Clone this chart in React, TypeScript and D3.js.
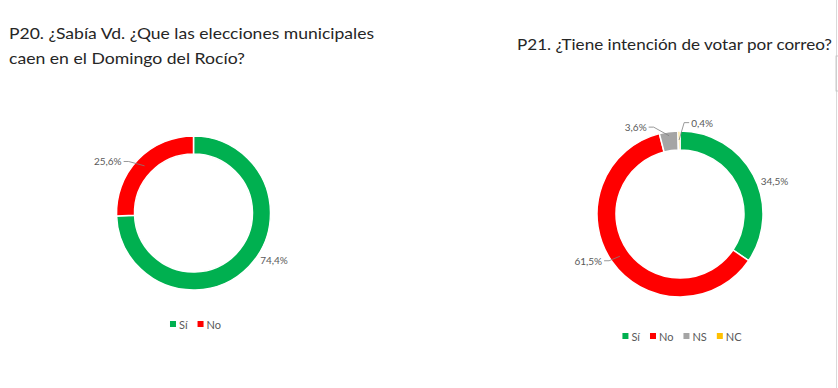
import React from "react";
import * as d3 from "d3";

// P20
const p20Categories = ["Sí", "No"];
const p20Values = [74.4, 25.6];
const p20Labels = ["74,4%", "25,6%"];

// P21
const p21Categories = ["Sí", "No", "NS", "NC"];
const p21Values = [34.5, 61.5, 3.6, 0.4];
const p21Labels = ["34,5%", "61,5%", "3,6%", "0,4%"];

const colors: Record<string, string> = {
  "Sí": "#00B050",
  No: "#FF0000",
  NS: "#A5A5A5",
  NC: "#FFC000",
};

const FONT = "Lato, 'Open Sans', sans-serif";

// where the excel "best fit" labels ended up (angle from top, distance from centre)
type LabelPos = { angle: number; dist: number; leader?: boolean; leaderR?: number };
const p20Layout: LabelPos[] = [
  { angle: 120, dist: 93 },
  { angle: 301, dist: 100, leader: true },
];
const p21Layout: LabelPos[] = [
  { angle: 71, dist: 100 },
  { angle: 243, dist: 103, leader: true },
  { angle: 333, dist: 97.5, leader: true, leaderR: 79 },
  { angle: 13.6, dist: 94, leader: true, leaderR: 74 },
];

let ctx: CanvasRenderingContext2D | null = null;
const measure = (text: string, size: number) => {
  if (!ctx) ctx = document.createElement("canvas").getContext("2d");
  if (!ctx) return text.length * size * 0.5;
  ctx.font = `${size}px Lato`;
  return ctx.measureText(text).width;
};

type DonutProps = {
  cx: number;
  cy: number;
  rOuter: number;
  rInner: number;
  categories: string[];
  values: number[];
  labels: string[];
  layout: LabelPos[];
  legendY: number;
};

const Donut = ({ cx, cy, rOuter, rInner, categories, values, labels, layout, legendY }: DonutProps) => {
  const pie = d3
    .pie<number>()
    .sort(null)
    .value((d) => d)
    .startAngle(0)
    .endAngle(2 * Math.PI);
  const arcs = pie(values);
  const arc = d3.arc<d3.PieArcDatum<number>>().innerRadius(rInner).outerRadius(rOuter);

  const polar = (deg: number, r: number): [number, number] => {
    const a = (deg * Math.PI) / 180;
    return [cx + r * Math.sin(a), cy - r * Math.cos(a)];
  };

  // legend
  const sq = 6;
  const items = categories.map((c) => ({ c, w: measure(c, 11) }));
  const total = d3.sum(items, (d) => sq + 3 + d.w) + (items.length - 1) * 10;
  let lx = cx + 2 - total / 2;
  const legend = items.map((it) => {
    const x = lx;
    lx += sq + 3 + it.w + 10;
    return { ...it, x };
  });

  return (
    <g>
      <g transform={`translate(${cx},${cy})`}>
        {arcs.map((a, i) => (
          <path key={i} d={arc(a) || ""} fill={colors[categories[i]]} stroke="#fff" strokeWidth={1.5} />
        ))}
      </g>
      {arcs.map((a, i) => {
        const lp = layout[i];
        const [tx, ty] = polar(lp.angle, lp.dist);
        let leader = null;
        if (lp.leader) {
          const w = measure(labels[i], 10);
          const mid = ((a.startAngle + a.endAngle) / 2) * (180 / Math.PI);
          const [ex, ey] = polar(mid, lp.leaderR ?? (rInner + rOuter) / 2);
          const dir = ex > tx ? 1 : -1;
          const sx = tx + dir * (w / 2 + 2);
          const pts = [
            [sx, ty],
            [sx + dir * 5, ty],
            [ex, ey],
          ];
          leader = (
            <polyline
              points={pts.map((p) => p.join(",")).join(" ")}
              fill="none"
              stroke="#7f7f7f"
              strokeWidth={0.8}
            />
          );
        }
        return (
          <g key={"l" + i}>
            {leader}
            <text
              x={tx}
              y={ty}
              textAnchor="middle"
              dominantBaseline="central"
              fontSize={10}
              fontFamily={FONT}
              fill="#595959"
            >
              {labels[i]}
            </text>
          </g>
        );
      })}
      {legend.map((l) => (
        <g key={l.c}>
          <rect x={l.x} y={legendY - sq / 2} width={sq} height={sq} fill={colors[l.c]} />
          <text
            x={l.x + sq + 3}
            y={legendY}
            dominantBaseline="central"
            fontSize={11}
            fontFamily={FONT}
            fill="#595959"
          >
            {l.c}
          </text>
        </g>
      ))}
    </g>
  );
};

const App = () => {
  return (
    <svg
      width={838}
      height={388}
      style={{ position: "absolute", left: 0, top: 0, background: "#fff" }}
    >
      <rect width={838} height={388} fill="#fff" />
      <g fontFamily={FONT} fill="#262626" fontSize={16}>
        <text x={9} y={39} textLength={365} lengthAdjust="spacingAndGlyphs">
          P20. ¿Sabía Vd. ¿Que las elecciones municipales
        </text>
        <text x={9} y={64} textLength={236} lengthAdjust="spacingAndGlyphs">
          caen en el Domingo del Rocío?
        </text>
        <text x={517} y={50} textLength={315} lengthAdjust="spacingAndGlyphs">
          P21. ¿Tiene intención de votar por correo?
        </text>
      </g>
      <Donut
        cx={193.5}
        cy={213}
        rOuter={77}
        rInner={59}
        categories={p20Categories}
        values={p20Values}
        labels={p20Labels}
        layout={p20Layout}
        legendY={324}
      />
      <Donut
        cx={680}
        cy={214}
        rOuter={83}
        rInner={64}
        categories={p21Categories}
        values={p21Values}
        labels={p21Labels}
        layout={p21Layout}
        legendY={336}
      />
      <line x1={836.5} x2={836.5} y1={0} y2={388} stroke="#d9d9d9" strokeWidth={1} />
      <rect x={836} y={56} width={3} height={35} fill="none" stroke="#bfbfbf" strokeWidth={0.8} />
    </svg>
  );
};

export default App;
